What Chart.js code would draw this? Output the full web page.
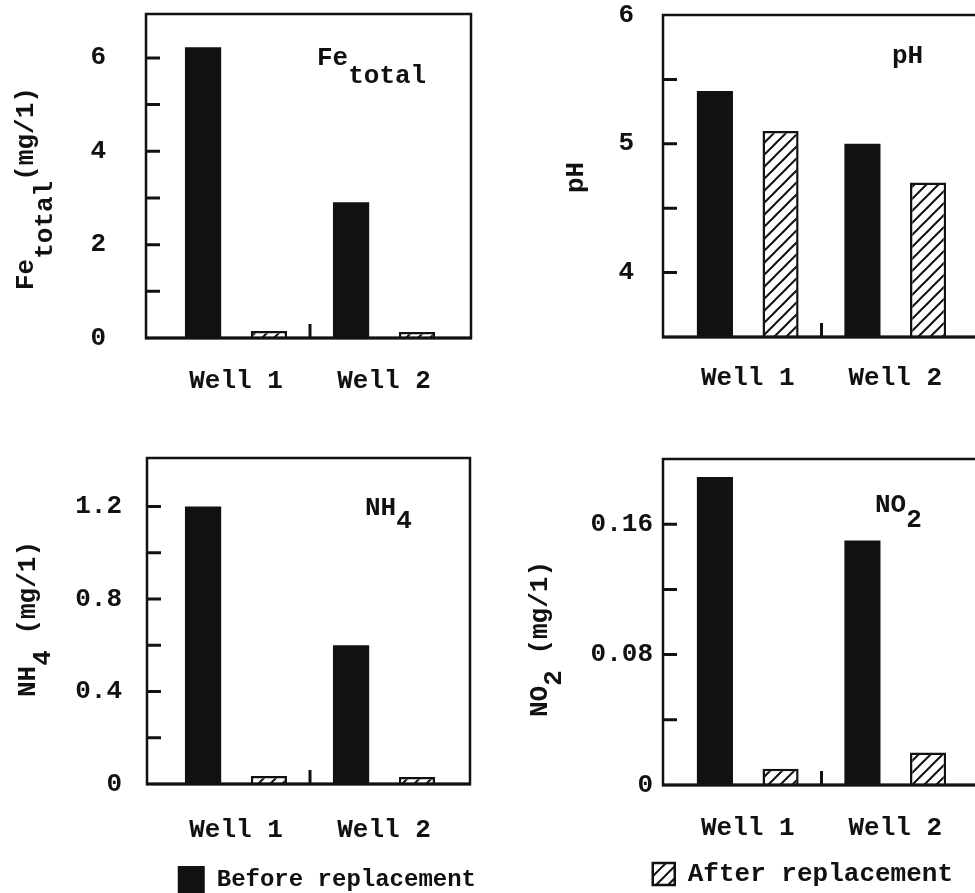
<!DOCTYPE html>
<html>
<head>
<meta charset="utf-8">
<script src="https://cdn.jsdelivr.net/npm/chart.js@4.4.1/dist/chart.umd.min.js"></script>
<style>
  html, body { margin: 0; padding: 0; background: #fff; overflow: hidden; }
  body { width: 975px; height: 893px; position: relative; }
  canvas { position: absolute; }
</style>
</head>
<body>
<canvas id="feCanvas" width="487" height="430" style="left:0;top:0"></canvas>
<canvas id="phCanvas" width="488" height="430" style="left:487px;top:0"></canvas>
<canvas id="nh4Canvas" width="487" height="473" style="left:0;top:430px"></canvas>
<canvas id="no2Canvas" width="488" height="467" style="left:487px;top:430px"></canvas>
<script>
var wells = ['Well 1', 'Well 2'];
var seriesNames = ['Before replacement', 'After replacement'];

var feBefore = [6.23, 2.91];
var feAfter = [0.15, 0.13];
var feTicks = [0, 2, 4, 6];

var phBefore = [5.41, 5.0];
var phAfter = [5.1, 4.7];
var phTicks = [4, 5, 6];

var nh4Before = [1.2, 0.6];
var nh4After = [0.035, 0.03];
var nh4Ticks = [0, 0.4, 0.8, 1.2];

var no2Before = [0.189, 0.15];
var no2After = [0.01, 0.02];
var no2Ticks = [0, 0.08, 0.16];

var FONT = '"Liberation Mono", "DejaVu Sans Mono", monospace';
var INK = '#111';

// diagonal hatching for the "after" bars
function makeHatch() {
    var c = document.createElement('canvas');
    c.width = 12; c.height = 12;
    var g = c.getContext('2d');
    g.fillStyle = '#fff';
    g.fillRect(0, 0, 12, 12);
    g.strokeStyle = INK;
    g.lineWidth = 2;
    g.beginPath();
    g.moveTo(-2, 14); g.lineTo(14, -2);
    g.moveTo(-2, 2); g.lineTo(2, -2);
    g.moveTo(10, 14); g.lineTo(14, 10);
    g.stroke();
    return g.createPattern(c, 'repeat');
}
var hatch = makeHatch();

function drawParts(ctx, x, y, parts, vertical) {
    ctx.save();
    ctx.translate(x, y);
    if (vertical) ctx.rotate(-Math.PI / 2);
    var cx = 0;
    parts.forEach(function (p) {
        ctx.fillText(p[0], cx, p[1]);
        cx += ctx.measureText(p[0]).width;
    });
    ctx.restore();
}

// box frame, inward ticks, panel title and y title
function makePanel(setting) {
    return {
        id: 'panel',
        afterDraw: function (chart) {
            var ctx = chart.ctx, a = chart.chartArea;
            var xs = chart.scales.x, ys = chart.scales.y;
            var L = a.left - setting.frame[0], R = a.right + setting.frame[1];
            ctx.save();
            ctx.strokeStyle = INK;
            ctx.lineWidth = 2.5;
            ctx.strokeRect(L, a.top, R - L, a.bottom - a.top);
            ctx.lineWidth = 3;
            ctx.beginPath();
            ctx.moveTo(L - 1, a.bottom); ctx.lineTo(R + 1, a.bottom);
            ys.ticks.forEach(function (t) {
                var py = ys.getPixelForValue(t.value);
                if (py > a.top + 3 && py < a.bottom - 3) {
                    ctx.moveTo(L, py); ctx.lineTo(L + 14, py);
                }
            });
            var mx = (xs.getPixelForValue(0) + xs.getPixelForValue(1)) / 2;
            ctx.moveTo(mx, a.bottom); ctx.lineTo(mx, a.bottom - 14);
            ctx.stroke();

            ctx.fillStyle = INK;
            ctx.font = 'bold 26px ' + FONT;
            ctx.textAlign = 'left';
            ctx.textBaseline = 'alphabetic';
            drawParts(ctx, setting.title[0], setting.title[1], setting.title[2], false);
            drawParts(ctx, setting.axis[0], setting.axis[1], setting.axis[2], true);
            ctx.restore();
        }
    };
}

function plotPanel(setting) {
    var labelled = setting.ticks;
    var scales = {
        x: {
            grid: { display: false, drawTicks: false },
            border: { display: false },
            ticks: {
                color: INK,
                padding: setting.xPad,
                maxRotation: 0,
                font: { family: FONT, size: 26, weight: 'bold', lineHeight: 1 }
            },
            afterFit: function (s) { s.height = setting.xHeight; }
        },
        y: {
            min: setting.min,
            max: setting.max,
            grid: { display: false, drawTicks: false },
            border: { display: false },
            ticks: {
                stepSize: setting.step,
                includeBounds: false,
                color: INK,
                padding: setting.yPad,
                font: { family: FONT, size: 26, weight: 'bold', lineHeight: 1 },
                callback: function (v) {
                    for (var i = 0; i < labelled.length; i++) {
                        if (Math.abs(v - labelled[i]) < 1e-9) return v === 0 ? '0' : String(labelled[i]);
                    }
                    return '';
                }
            },
            afterFit: function (s) {
                s.width = setting.yWidth;
                s.paddingTop = 0;
                s.paddingBottom = 0;
            }
        }
    };
    if (setting.rightGap) {
        // empty spacer on the right so the legend can run past the plot
        scales.yRight = {
            type: 'linear', axis: 'y', position: 'right',
            grid: { display: false, drawTicks: false },
            border: { display: false },
            ticks: { display: false },
            afterFit: function (s) {
                s.width = setting.rightGap;
                s.paddingTop = 0;
                s.paddingBottom = 0;
            }
        };
    }
    return new Chart(document.getElementById(setting.id), {
        type: 'bar',
        data: {
            labels: wells,
            datasets: [
                {
                    label: seriesNames[0],
                    data: setting.before,
                    backgroundColor: INK,
                    borderColor: INK,
                    borderWidth: 0,
                    categoryPercentage: 0.89,
                    barPercentage: 0.55
                },
                {
                    label: seriesNames[1],
                    data: setting.after,
                    backgroundColor: hatch,
                    borderColor: INK,
                    borderWidth: 2.5,
                    categoryPercentage: 0.89,
                    barPercentage: 0.55
                }
            ]
        },
        options: {
            responsive: false,
            animation: false,
            layout: { padding: setting.padding },
            plugins: {
                legend: setting.legend || { display: false },
                tooltip: { enabled: false }
            },
            scales: scales
        },
        plugins: [makePanel(setting)]
    });
}

plotPanel({
    id: 'feCanvas', before: feBefore, after: feAfter, ticks: feTicks,
    min: 0, max: 6.94, step: 1,
    padding: { top: 14, right: 29, left: 0, bottom: 0 },
    yWidth: 162, yPad: 56, xHeight: 92, xPad: 30,
    frame: [16, 13],
    title: [317, 65, [['Fe', 0], ['total', 18]]],
    axis: [33, 290, [['Fe', 0], ['total', 19], ['(mg/1)', 0]]]
});

plotPanel({
    id: 'phCanvas', before: phBefore, after: phAfter, ticks: phTicks,
    min: 3.5, max: 6, step: 0.5,
    padding: { top: 15, right: 6, left: 0, bottom: 0 },
    yWidth: 187, yPad: 40, xHeight: 93, xPad: 28,
    frame: [11, 30],
    title: [405, 63, [['pH', 0]]],
    axis: [96, 193, [['pH', 0]]]
});

plotPanel({
    id: 'nh4Canvas', before: nh4Before, after: nh4After, ticks: nh4Ticks,
    min: 0, max: 1.41, step: 0.2,
    padding: { top: 28, right: 0, left: 0, bottom: 0 },
    rightGap: 29,
    yWidth: 162, yPad: 40, xHeight: 71, xPad: 33,
    frame: [15, 12],
    title: [365, 85, [['NH', 0], ['4', 13]]],
    axis: [35, 267, [['NH', 0], ['4', 15], [' (mg/1)', 0]]],
    legend: {
        position: 'bottom', align: 'end',
        labels: {
            color: INK, boxWidth: 27, boxHeight: 27, padding: 11,
            font: { family: FONT, size: 24, weight: 'bold', lineHeight: 1 },
            filter: function (item) { return item.datasetIndex === 0; }
        }
    }
});

plotPanel({
    id: 'no2Canvas', before: no2Before, after: no2After, ticks: no2Ticks,
    min: 0, max: 0.2, step: 0.04,
    padding: { top: 29, right: 6, left: 0, bottom: 0 },
    yWidth: 187, yPad: 21, xHeight: 60, xPad: 30,
    frame: [11, 30],
    title: [388, 82, [['NO', 0], ['2', 15]]],
    axis: [60, 287, [['NO', 0], ['2', 14], [' (mg/1)', 0]]],
    legend: {
        position: 'bottom', align: 'end',
        labels: {
            color: INK, boxWidth: 22, boxHeight: 22, padding: 16,
            font: { family: FONT, size: 26, weight: 'bold', lineHeight: 1 },
            filter: function (item) { return item.datasetIndex === 1; }
        }
    }
});
</script>
</body>
</html>
